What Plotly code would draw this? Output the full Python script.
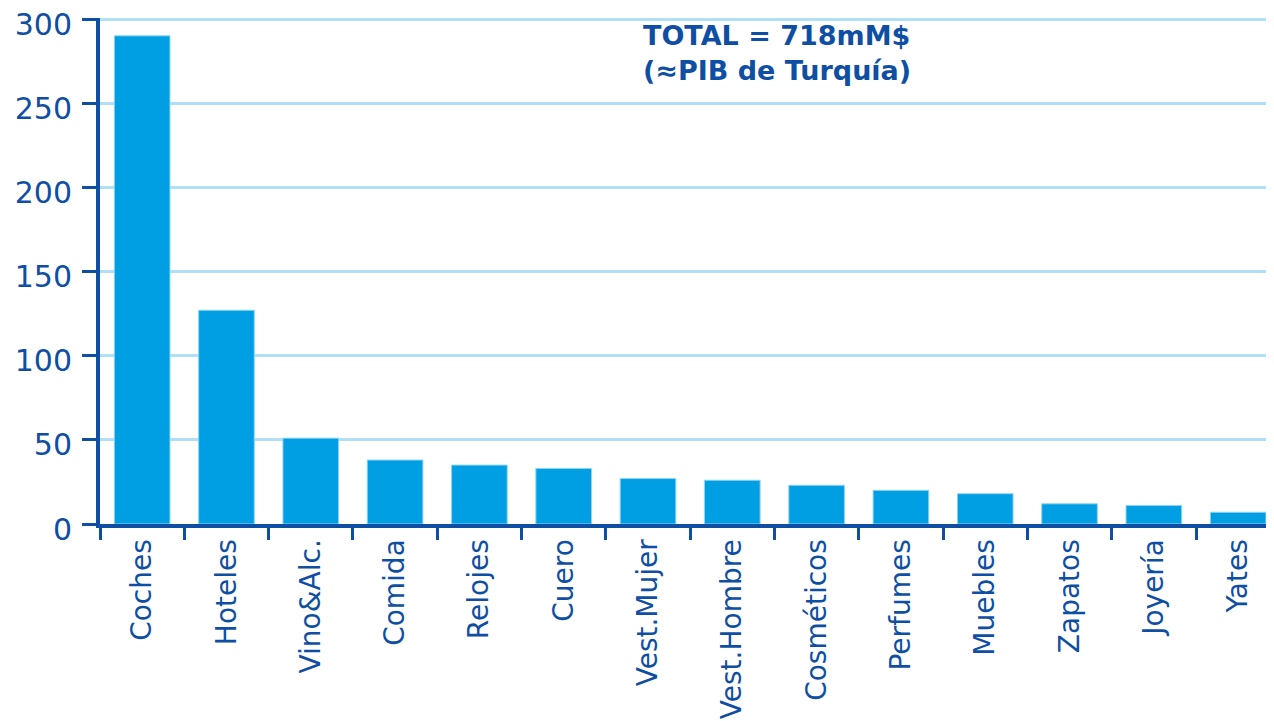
import plotly.graph_objects as go

categories = ["Coches", "Hoteles", "Vino&Alc.", "Comida", "Relojes", "Cuero",
              "Vest.Mujer", "Vest.Hombre", "Cosméticos", "Perfumes", "Muebles",
              "Zapatos", "Joyería", "Yates"]
values = [290, 127, 51, 38, 35, 33, 27, 26, 23, 20, 18, 12, 11, 7]
y_ticks = [0, 50, 100, 150, 200, 250, 300]

BLUE = "#0f4fa3"
BAR = "#009fe3"

fig = go.Figure(go.Bar(
    x=categories,
    y=values,
    marker=dict(color=BAR, line=dict(color="#8fd4f2", width=1)),
))

fig.add_annotation(
    xref="paper", yref="paper", x=0.458, y=1.0,
    xanchor="left", yanchor="top", align="left", showarrow=False,
    text="<b>TOTAL = 718mM$<br>(≈PIB de Turquía)</b>",
    font=dict(family="DejaVu Sans", size=27, color=BLUE),
)

# the page body adds an 8px offset, so margins are shifted to compensate
fig.update_layout(
    width=1274, height=721,
    margin=dict(l=92, r=0, t=10, b=205),
    plot_bgcolor="white", paper_bgcolor="white",
    bargap=0.34, showlegend=False,
    font=dict(family="DejaVu Sans", color=BLUE),
)
fig.update_xaxes(
    range=[-0.5, 13.52], tickangle=-90, tickson="boundaries",
    ticks="outside", ticklen=12, tickwidth=3, tickcolor=BLUE,
    showline=True, linewidth=4, linecolor=BLUE, showgrid=False,
    tickfont=dict(size=28, color=BLUE), automargin=False,
    ticklabeloverflow="allow",
)
# tiny headroom above 300 so its gridline is still drawn
fig.update_yaxes(
    range=[0, 300.6], tickvals=y_ticks, ticks="outside", ticklen=14,
    tickwidth=3, tickcolor=BLUE, showline=True, linewidth=4, linecolor=BLUE,
    gridcolor="#b0e0f5", gridwidth=2.5, zeroline=False,
    tickfont=dict(size=30, color=BLUE), ticklabelstandoff=4,
    ticklabelshift=5, automargin=False, ticklabeloverflow="allow",
)

fig.write_html("out.html")
